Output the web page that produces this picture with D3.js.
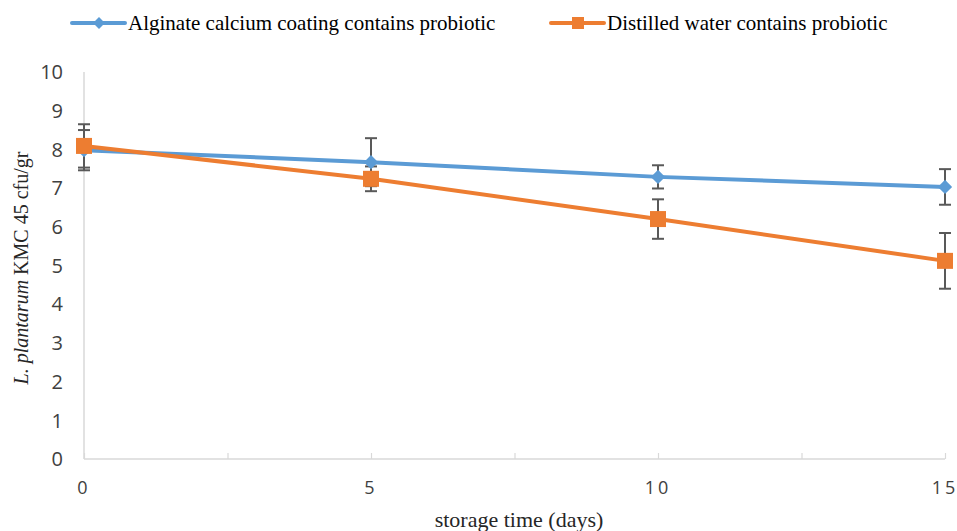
<!DOCTYPE html>
<html><head><meta charset="utf-8">
<script src="https://cdn.jsdelivr.net/npm/d3@7"></script>
<style>body{margin:0;background:#fff}svg{display:block}</style>
</head><body>
<svg id="c" width="957" height="531"></svg>
<script>
const days = [0, 5, 10, 15];
const seriesNames = ["Alginate calcium coating contains probiotic", "Distilled water contains probiotic"];
const alginate = [7.98, 7.67, 7.29, 7.03];
const alginateErr = [0.52, 0.62, 0.30, 0.46];
const water = [8.09, 7.24, 6.20, 5.12];
const waterErr = [0.56, 0.32, 0.51, 0.72];
const yTicks = [0,1,2,3,4,5,6,7,8,9,10];
const xTickLabels = [0, 5, 10, 15];
const xMinorTicks = [0, 2.5, 5, 7.5, 10, 12.5, 15];
const colors = ["#5B9BD5", "#ED7D31"];

const svg = d3.select("#c");
const x = d3.scaleLinear().domain([0, 15]).range([84, 945]);
const y = d3.scaleLinear().domain([0, 10]).range([459, 72]);

// axes lines
svg.append("line").attr("x1", x(0)).attr("x2", x(0)).attr("y1", y(10)).attr("y2", y(0))
  .attr("stroke", "#d9d9d9").attr("stroke-width", 1.5);
const xa = svg.append("g").attr("transform", `translate(0,${y(0)})`)
  .call(d3.axisBottom(x).tickValues(xMinorTicks).tickSize(-6).tickFormat(""));
xa.select(".domain").attr("stroke", "#d9d9d9").attr("stroke-width", 1.5).attr("d", `M${x(0)},0H${x(15)}`);
xa.selectAll(".tick line").attr("stroke", "#d9d9d9").attr("stroke-width", 1.2);

// x tick labels
svg.append("g").selectAll("text").data(xTickLabels).join("text")
  .attr("x", d => x(d)).attr("y", 494)
  .attr("text-anchor", "middle").attr("font-family", "Open Sans, sans-serif")
  .attr("font-size", 18).attr("letter-spacing", 3).attr("fill", "#404040")
  .text(d => d);

// y tick labels
svg.append("g").selectAll("text").data(yTicks).join("text")
  .attr("x", 63).attr("y", d => y(d)).attr("dy", "0.36em")
  .attr("text-anchor", "end").attr("font-family", "Open Sans, sans-serif")
  .attr("font-size", 20).attr("fill", "#404040").text(d => d);

// axis titles
const yt = svg.append("text").attr("transform", "translate(28,268) rotate(-90)")
  .attr("text-anchor", "middle").attr("font-family", "Liberation Serif, serif")
  .attr("font-size", 20).attr("fill", "#262626");
yt.append("tspan").attr("font-style", "italic").text("L. plantarum");
yt.append("tspan").text(" KMC 45 cfu/gr");
svg.append("text").attr("x", 519).attr("y", 527).attr("text-anchor", "middle")
  .attr("font-family", "Liberation Serif, serif").attr("font-size", 22).attr("fill", "#262626")
  .text("storage time (days)");

const data = [
  {vals: alginate, errs: alginateErr, color: colors[0], marker: "diamond"},
  {vals: water, errs: waterErr, color: colors[1], marker: "square"}
];

// error bars
data.forEach(s => {
  const g = svg.append("g").attr("stroke", "#595959").attr("stroke-width", 2);
  days.forEach((d, i) => {
    const lo = y(s.vals[i] - s.errs[i]), hi = y(s.vals[i] + s.errs[i]);
    g.append("line").attr("x1", x(d)).attr("x2", x(d)).attr("y1", lo).attr("y2", hi);
    g.append("line").attr("x1", x(d) - 6).attr("x2", x(d) + 6).attr("y1", lo).attr("y2", lo);
    g.append("line").attr("x1", x(d) - 6).attr("x2", x(d) + 6).attr("y1", hi).attr("y2", hi);
  });
});

const line = d3.line().x((d, i) => x(days[i])).y(d => y(d));
data.forEach(s => {
  svg.append("path").datum(s.vals).attr("d", line).attr("fill", "none")
    .attr("stroke", s.color).attr("stroke-width", 4).attr("stroke-linejoin", "round");
});
function marker(g, type, cx, cy, color) {
  if (type === "diamond") {
    g.append("path").attr("d", d3.symbol(d3.symbolDiamond2, 130)()).attr("transform", `translate(${cx},${cy})`).attr("fill", color);
  } else {
    g.append("rect").attr("x", cx - 8).attr("y", cy - 8).attr("width", 16).attr("height", 16).attr("fill", color);
  }
}
data.forEach(s => {
  const g = svg.append("g");
  days.forEach((d, i) => marker(g, s.marker, x(d), y(s.vals[i]), s.color));
});

// legend
const legendX = [72, 551];
seriesNames.forEach((n, i) => {
  const g = svg.append("g");
  g.append("line").attr("x1", legendX[i]).attr("x2", legendX[i] + 53).attr("y1", 23).attr("y2", 23)
    .attr("stroke", colors[i]).attr("stroke-width", 4).attr("stroke-linecap", "round");
  if (i === 0) {
    g.append("path").attr("d", d3.symbol(d3.symbolDiamond2, 90)()).attr("transform", `translate(${legendX[i] + 27},23)`).attr("fill", colors[i]);
  } else {
    g.append("rect").attr("x", legendX[i] + 21).attr("y", 17).attr("width", 12).attr("height", 12).attr("fill", colors[i]);
  }
  g.append("text").attr("x", legendX[i] + 56).attr("y", 23).attr("dy", "0.35em")
    .attr("font-family", "Liberation Serif, serif").attr("font-size", 21).attr("fill", "#000").text(n);
});
</script>
</body></html>
